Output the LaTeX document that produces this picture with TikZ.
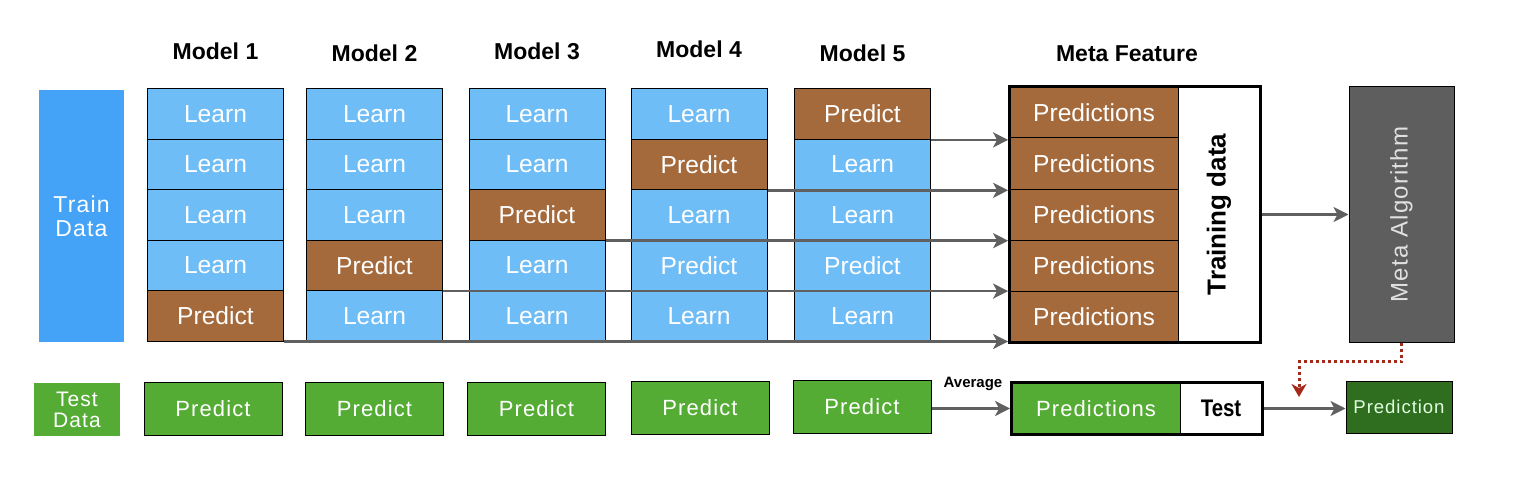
\documentclass[tikz,border=0pt]{standalone}
\usepackage{fontspec}
\setmainfont{Liberation Sans}
\newfontfamily\spacedfont[LetterSpace=5]{Liberation Sans}
\newfontfamily\narrowfont[FakeStretch=0.85]{Liberation Sans}
\usetikzlibrary{arrows.meta, positioning, fit}

\definecolor{trainblue}{HTML}{44A3F7}
\definecolor{learnblue}{HTML}{6FBDF7}
\definecolor{predbrown}{HTML}{A46A3C}
\definecolor{testgreen}{HTML}{55AC35}
\definecolor{finalgreen}{HTML}{2F6E1F}
\definecolor{metagray}{HTML}{5E5E5E}
\definecolor{arrowgray}{HTML}{606060}
\definecolor{hintred}{HTML}{A52A1C}

\tikzset{
  cell/.style={draw=black, line width=0.5pt, minimum width=68pt, minimum height=25.2pt,
    inner sep=0pt, text=white, font=\fontsize{12.3}{14}\selectfont},
  learn/.style={fill=learnblue},
  pred/.style={fill=predbrown},
  testcell/.style={draw=black, line width=0.5pt, fill=testgreen, minimum width=69pt,
    minimum height=26.5pt, inner sep=0pt, text=white, font=\spacedfont\fontsize{11}{13}\selectfont},
  title/.style={font=\bfseries\fontsize{11.5}{14}\selectfont},
  flow/.style={draw=arrowgray, line width=1.35pt, -{Stealth[length=7.5pt, width=7.5pt, inset=2pt]}},
  hint/.style={draw=hintred, line width=1.5pt, dash pattern=on 1.5pt off 1.5pt,
    -{Stealth[length=6.5pt, width=7.5pt, inset=2pt, fill=hintred]}},
}

\begin{document}
\begin{tikzpicture}[x=0.5pt, y=-0.5pt]
  \useasboundingbox (0,0) rectangle (1520,492);

  % Train data
  \node[fill=trainblue, minimum width=42.5pt, minimum height=126pt, text=white, align=center,
    font=\spacedfont\fontsize{11.5}{12}\selectfont] (train) at (81.5,216) {Train\\Data};

  % Models, one column each
  \foreach \c/\x/\ty/\cells in {
    1/215.5/51/{learn/Learn,learn/Learn,learn/Learn,learn/Learn,pred/Predict},
    2/374.5/53/{learn/Learn,learn/Learn,learn/Learn,pred/Predict,learn/Learn},
    3/537/51/{learn/Learn,learn/Learn,pred/Predict,learn/Learn,learn/Learn},
    4/699/49/{learn/Learn,pred/Predict,learn/Learn,learn/Predict,learn/Learn},
    5/862.5/53/{pred/Predict,learn/Learn,learn/Learn,learn/Predict,learn/Learn}} {
    \node[title] (t\c) at (\x,\ty) {Model \c};
    \foreach \s/\txt [count=\r] in \cells
      \node[cell, \s] (m\c r\r) at (\x,{63.8+50.4*\r}) {\txt};
  }

  % Meta feature
  \node[title] (tmeta) at (1127,54) {Meta Feature};
  \foreach \r in {1,...,5}
    \node[cell, pred, minimum width=84pt, minimum height=25.5pt] (f\r) at (1094,{61.5+51*\r}) {Predictions};
  \node[draw=black, line width=0.5pt, fill=white, minimum width=41pt, minimum height=127.5pt,
    inner sep=0pt] (tcell) at (1219,214.5) {};
  \node[rotate=90, font=\bfseries\fontsize{13}{15}\selectfont] (tdlabel) at (tcell) {Training data};
  \node[draw=black, line width=1.4pt, inner sep=0pt, fit=(f1)(f5)(tcell)] (feat) {};

  % predictions into the meta feature
  \foreach \c in {1,...,5} {
    \pgfmathtruncatemacro{\r}{6-\c}
    \draw[flow] (m\c r\r.south east) -- (m\c r\r.south east -| feat.west);
  }

  % Meta algorithm
  \node[draw=black, line width=0.5pt, fill=metagray, minimum width=52.5pt, minimum height=127.5pt,
    inner sep=0pt] (algo) at (1401.5,214.5) {};
  \node[rotate=90, text=white!88!black, font=\spacedfont\fontsize{12}{14}\selectfont] (algolabel) at (algo) {Meta Algorithm};
  \draw[flow] (feat.east) -- (algo.west);

  % Test data
  \node[fill=testgreen, minimum width=43pt, minimum height=26.5pt, inner sep=0pt, text=white, align=center,
    font=\spacedfont\fontsize{10.5}{10.5}\selectfont] (test) at (77,409.5) {Test\\Data};
  \foreach \c/\x/\y in {1/213/408.5, 2/374.5/408.5, 3/536.5/409, 4/700/407.5, 5/862/406.5}
    \node[testcell] (p\c) at (\x,\y) {Predict};

  \node[testcell, minimum width=84pt, minimum height=25.5pt] (tp) at (1096,408.5) {Predictions};
  \node[draw=black, line width=0.5pt, fill=white, minimum width=41pt, minimum height=25.5pt,
    inner sep=0pt, font=\narrowfont\bfseries\fontsize{12}{14}\selectfont] (tt) at (1221,408.5) {Test};
  \node[draw=black, line width=1.4pt, inner sep=0pt, fit=(tp)(tt)] (tbox) {};

  \draw[flow] (p5.east |- tbox.west) -- (tbox.west);
  \node[font=\bfseries\fontsize{7.5}{9}\selectfont] (avg) at (973,384) {Average};

  \node[draw=black, line width=0.5pt, fill=finalgreen, minimum width=53pt, minimum height=26pt,
    inner sep=0pt, text=white!88!green, font=\spacedfont\fontsize{9.3}{11}\selectfont] (final) at (1399,407) {Prediction};
  \draw[flow] (tbox.east) -- (tbox.east -| final.west);

  \coordinate (drop) at (1299,397);
  \draw[hint] (algo.south) -- ++(0,19) -| (drop);
\end{tikzpicture}
\end{document}
